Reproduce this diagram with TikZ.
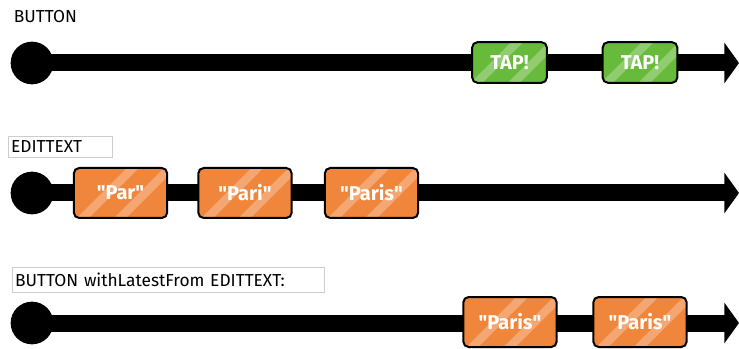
\documentclass[tikz,border=0pt]{standalone}
\usepackage{fontspec}
\setmainfont{Fira Sans}
\usetikzlibrary{arrows.meta,backgrounds}
\definecolor{tapgreen}{RGB}{103,186,58}
\definecolor{textorange}{RGB}{240,134,60}
\definecolor{framegray}{RGB}{205,205,205}

\tikzset{every picture/.style={line width=0.75pt}}
\tikzset{
  origin/.style={circle, fill=black, minimum size=32pt, inner sep=0pt},
  timeline/.style={line width=12.75pt, -{Triangle[length=11pt, width=30pt]}},
  stripes/.style={path picture={
    \fill[white, opacity=0.28] ([xshift=-14pt]path picture bounding box.center) ++(-30pt,-30pt) -- ++(60pt,60pt) -- ++(9pt,0pt) -- ++(-60pt,-60pt) -- cycle;
    \fill[white, opacity=0.28] ([xshift=14pt]path picture bounding box.center) ++(-30pt,-30pt) -- ++(60pt,60pt) -- ++(9pt,0pt) -- ++(-60pt,-60pt) -- cycle;
  }},
  event/.style={draw=black, line width=1.5pt, rounded corners=4pt, text=white,
    font=\fontsize{15}{15}\selectfont\bfseries, inner sep=0pt, stripes},
  tapevent/.style={event, fill=tapgreen, minimum width=56pt, minimum height=30.5pt},
  textevent/.style={event, fill=textorange, minimum width=70pt, minimum height=37.5pt},
  caption/.style={anchor=west, inner sep=1pt, font=\fontsize{13}{13}\selectfont},
  captionbox/.style={anchor=north west, draw=framegray, line width=0.6pt, inner sep=1.5pt,
    align=left, font=\fontsize{13}{13}\selectfont}
}
\newcommand{\quoted}[1]{\textquotedbl#1\textquotedbl}

\begin{document}
\begin{tikzpicture}[x=0.75pt,y=0.75pt,yscale=-1,xscale=1]
\useasboundingbox (0,0) rectangle (739,349);

% Button stream
\node [caption] (lblbutton) at (12,17) {BUTTON};
\node [origin] (obutton) at (32,63) {};
\node [tapevent] (tap1) at (509.5,62.5) {TAP!};
\node [tapevent] (tap2) at (640,62.5) {TAP!};
\coordinate (endbutton) at (739,63);

% EditText stream
\node [captionbox, minimum width=78pt, minimum height=15.75pt, text width=74pt] (lbledit) at (8,136) {EDITTEXT};
\node [origin] (oedit) at (32,193) {};
\node [textevent] (par) at (120.5,193) {\quoted{Par}};
\node [textevent] (pari) at (245,193) {\quoted{Pari}};
\node [textevent] (paris) at (371.5,193) {\quoted{Paris}};
\coordinate (endedit) at (739,193);

% Combined stream
\node [captionbox, minimum width=234pt, minimum height=18.75pt, text width=230pt] (lblcombined) at (12,267) {BUTTON withLatestFrom EDITTEXT:};
\node [origin] (ocombined) at (32,323) {};
\node [textevent] (res1) at (510,322) {\quoted{Paris}};
\node [textevent] (res2) at (640,322) {\quoted{Paris}};
\coordinate (endcombined) at (739,323);

% Time lines
\begin{scope}[on background layer]
\draw [timeline] (obutton.center) -- (endbutton);
\draw [timeline] (oedit.center) -- (endedit);
\draw [timeline] (ocombined.center) -- (endcombined);
\end{scope}

\end{tikzpicture}
\end{document}
